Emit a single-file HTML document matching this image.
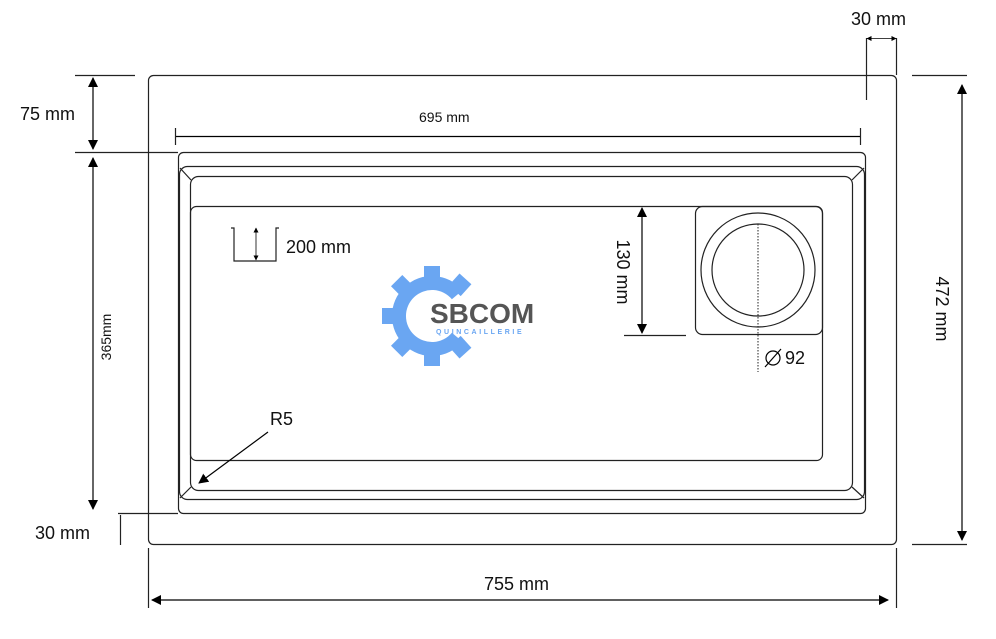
<!DOCTYPE html>
<html><head><style>
body{margin:0;background:#fff;width:996px;height:634px;overflow:hidden}
svg text{font-family:"Liberation Sans",sans-serif;fill:#111}
</style></head><body>
<svg width="996" height="634" viewBox="0 0 996 634" xmlns="http://www.w3.org/2000/svg">
<defs>
<marker id="a" viewBox="0 0 10 10" refX="9" refY="5" markerWidth="10" markerHeight="10" markerUnits="userSpaceOnUse" orient="auto-start-reverse"><path d="M0,0L10,5L0,10z" fill="#000"/></marker>
<marker id="s" viewBox="0 0 10 10" refX="9" refY="5" markerWidth="5" markerHeight="5" markerUnits="userSpaceOnUse" orient="auto-start-reverse"><path d="M0,0L10,5L0,10z" fill="#000"/></marker>
</defs>
<g fill="none" stroke="#222" stroke-width="1.2">
<rect x="148.5" y="75.5" width="748" height="469" rx="5"/>
<rect x="178.5" y="152.5" width="687" height="361" rx="5"/>
<rect x="179.5" y="166.5" width="685" height="333" rx="8"/>
<rect x="190.5" y="176.5" width="662" height="314" rx="8"/>
<line x1="180" y1="168" x2="191" y2="180"/><line x1="864" y1="168" x2="852" y2="180"/>
<line x1="180" y1="498" x2="191" y2="487"/><line x1="864" y1="498" x2="852" y2="487"/>
<rect x="190.5" y="206.5" width="632" height="254" rx="6"/>
<rect x="695.5" y="206.5" width="127" height="128" rx="7"/>
<circle cx="758" cy="270" r="57"/><circle cx="758" cy="270" r="46"/>
<line x1="758" y1="224" x2="758" y2="372" stroke-dasharray="1.5 1.5" stroke-width="1"/>
<line x1="75" y1="75.5" x2="135" y2="75.5"/>
<line x1="912" y1="75.5" x2="967" y2="75.5"/>
<line x1="75" y1="152.5" x2="178" y2="152.5"/>
<line x1="118" y1="513.5" x2="178" y2="513.5"/>
<line x1="912" y1="544.5" x2="967" y2="544.5"/>
<line x1="120.5" y1="515" x2="120.5" y2="545"/>
<line x1="148.5" y1="548" x2="148.5" y2="608"/>
<line x1="896.5" y1="548" x2="896.5" y2="608"/>
<line x1="624" y1="335.5" x2="686" y2="335.5"/>
<line x1="866.5" y1="38" x2="866.5" y2="100"/>
<line x1="896.5" y1="38" x2="896.5" y2="75"/>
<line x1="175.5" y1="128" x2="175.5" y2="145"/>
<line x1="860.5" y1="128" x2="860.5" y2="145"/>
<polyline points="231,228 234,228 234,261 276,261 276,228 279,228"/>
</g>
<g stroke="#000" stroke-width="1.2" fill="none">
<line x1="93" y1="78" x2="93" y2="149" marker-start="url(#a)" marker-end="url(#a)"/>
<line x1="93" y1="158" x2="93" y2="509" marker-start="url(#a)" marker-end="url(#a)"/>
<line x1="962" y1="85" x2="962" y2="540" marker-start="url(#a)" marker-end="url(#a)"/>
<line x1="152" y1="600" x2="888" y2="600" marker-start="url(#a)" marker-end="url(#a)"/>
<line x1="642" y1="208" x2="642" y2="333" marker-start="url(#a)" marker-end="url(#a)"/>
<line x1="176" y1="136.5" x2="860" y2="136.5"/>
<line x1="867" y1="38.5" x2="896" y2="38.5" marker-start="url(#s)" marker-end="url(#s)" stroke-width="0.8"/>
<line x1="256" y1="228" x2="256" y2="260" marker-start="url(#s)" marker-end="url(#s)" stroke-width="0.8"/>
<line x1="268" y1="432" x2="199" y2="483" marker-end="url(#a)"/>
</g>
<!-- logo gear -->
<g fill="#6aa6f2">
<path d="M462.6,290.3 A40,40 0 1,0 462.6,341.7 L451.9,332.7 A26,26 0 1,1 451.9,299.3 Z"/>
<g transform="translate(432,316)">
<rect x="-8" y="-8" width="16" height="16" transform="rotate(180) translate(42,0)"/>
<rect x="-8" y="-8" width="16" height="16" transform="rotate(135) translate(42,0)"/>
<rect x="-8" y="-8" width="16" height="16" transform="rotate(225) translate(42,0)"/>
<rect x="-8" y="-8" width="16" height="16" transform="rotate(90) translate(42,0)"/>
<rect x="-8" y="-8" width="16" height="16" transform="rotate(270) translate(42,0)"/>
<rect x="-8" y="-8" width="16" height="16" transform="rotate(-48) translate(42,0)"/>
<rect x="-8" y="-8" width="16" height="16" transform="rotate(48) translate(42,0)"/>
</g>
</g>
<text x="430" y="323" font-size="28" font-weight="bold" style="fill:#555">SBCOM</text>
<text x="436" y="334" font-size="7" font-weight="bold" letter-spacing="2.6" style="fill:#6aa6f2">QUINCAILLERIE</text>
<text x="20" y="120" font-size="18">75 mm</text>
<text x="35" y="539" font-size="18">30 mm</text>
<text x="851" y="25" font-size="18">30 mm</text>
<text x="484" y="590" font-size="18">755 mm</text>
<text x="419" y="122" font-size="14">695 mm</text>
<text x="286" y="253" font-size="18">200 mm</text>
<text x="270" y="425" font-size="18">R5</text>
<text x="785" y="364" font-size="18">92</text>
<g fill="none" stroke="#000" stroke-width="1.2"><circle cx="773" cy="358" r="7"/><line x1="765" y1="367" x2="781" y2="349"/></g>
<text transform="translate(111,337) rotate(-90)" font-size="14" text-anchor="middle">365mm</text>
<text transform="translate(617,272) rotate(90)" font-size="18" text-anchor="middle">130 mm</text>
<text transform="translate(936,309) rotate(90)" font-size="18" text-anchor="middle">472 mm</text>
</svg>
</body></html>
